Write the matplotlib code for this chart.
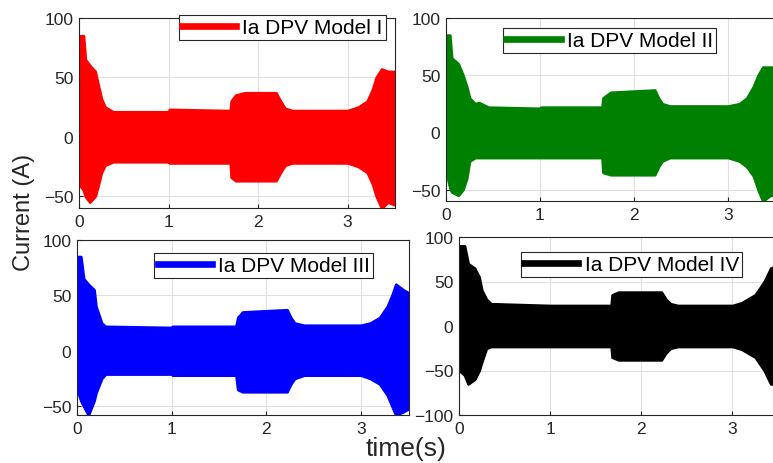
import matplotlib
matplotlib.use('Agg')
import matplotlib.pyplot as plt

plt.rcParams['font.family'] = ['Liberation Sans', 'DejaVu Sans']

W, H = 773, 464

# envelope of phase current Ia (upper / lower)
t_m1 = [0.0, 0.003, 0.05, 0.07, 0.12, 0.18, 0.21, 0.25, 0.29, 0.38, 1.0, 1.01, 1.69, 1.70, 1.75, 1.85, 2.2, 2.25, 2.3, 2.38, 3.0, 3.12, 3.22, 3.28, 3.32, 3.38, 3.45, 3.55]
up_m1 = [0, 85, 85, 65, 60, 55, 45, 32, 25, 21, 21, 23, 22, 30, 35, 37, 37, 30, 24, 22, 22, 25, 30, 40, 50, 57, 55, 55]
lo_m1 = [0, -40, -45, -50, -55, -50, -42, -30, -24, -21, -21, -22, -22, -34, -37, -37, -37, -30, -24, -22, -22, -25, -30, -40, -50, -60, -55, -58]

t_m2 = [0.0, 0.003, 0.04, 0.06, 0.13, 0.18, 0.22, 0.25, 0.31, 0.35, 0.45, 1.0, 1.01, 1.66, 1.67, 1.75, 2.22, 2.26, 2.3, 2.38, 3.0, 3.12, 3.2, 3.27, 3.32, 3.37, 3.45, 3.55]
up_m2 = [0, 85, 85, 65, 60, 50, 40, 30, 25, 26, 22, 21, 22, 22, 30, 35, 37, 30, 25, 23, 23, 25, 30, 40, 50, 57, 57, 57]
lo_m2 = [0, -35, -48, -52, -55, -50, -40, -25, -22, -22, -22, -22, -22, -22, -35, -37, -37, -30, -25, -22, -22, -25, -30, -38, -50, -60, -55, -55]

t_m3 = [0.0, 0.003, 0.04, 0.07, 0.12, 0.18, 0.2, 0.26, 0.3, 1.0, 1.01, 1.68, 1.7, 1.75, 2.22, 2.26, 2.3, 2.4, 3.0, 3.1, 3.2, 3.28, 3.33, 3.37, 3.45, 3.55]
up_m3 = [0, 85, 85, 65, 60, 55, 40, 25, 22, 21, 22, 22, 30, 35, 37, 30, 25, 23, 23, 25, 30, 40, 50, 60, 55, 50]
lo_m3 = [0, -35, -45, -50, -58, -45, -38, -25, -21, -21, -22, -22, -35, -37, -37, -30, -25, -22, -22, -25, -30, -40, -50, -58, -55, -50]

t_m4 = [0.0, 0.003, 0.06, 0.1, 0.17, 0.22, 0.25, 0.3, 0.35, 1.0, 1.67, 1.68, 1.75, 2.22, 2.27, 2.32, 2.4, 3.0, 3.1, 3.25, 3.35, 3.42, 3.55]
up_m4 = [0, 90, 90, 70, 65, 55, 40, 30, 25, 23, 23, 35, 38, 38, 30, 25, 23, 23, 26, 35, 50, 65, 70]
lo_m4 = [0, -50, -55, -65, -60, -50, -40, -25, -23, -23, -23, -35, -38, -38, -30, -25, -23, -23, -26, -35, -50, -65, -65]

labels = ['Ia DPV Model I', 'Ia DPV Model II', 'Ia DPV Model III', 'Ia DPV Model IV']
colors = ['#ff0000', '#008000', '#0000ff', '#000000']

xticks = [0, 1, 2, 3]


def px(l, t, r, b):
    return [l / W, 1 - b / H, (r - l) / W, (b - t) / H]


fig = plt.figure(figsize=(W / 100, H / 100), dpi=100)

panels = [
    (px(79, 19, 395, 209), t_m1, up_m1, lo_m1, (0, 3.53), (-60, 100), [-50, 0, 50, 100], (386, 16)),
    (px(446, 19, 775, 202), t_m2, up_m2, lo_m2, (0, 3.5), (-60, 100), [-50, 0, 50, 100], (716, 29)),
    (px(77, 241, 409, 416), t_m3, up_m3, lo_m3, (0, 3.51), (-58, 100), [-50, 0, 50, 100], (373, 254)),
    (px(459, 238, 778, 416), t_m4, up_m4, lo_m4, (0, 3.5), (-100, 100), [-100, -50, 0, 50, 100], (742, 253)),
]

for i, (pos, t, up, lo, xl, yl, yt, leg) in enumerate(panels):
    ax = fig.add_axes(pos)
    ax.fill_between(t, lo, up, color=colors[i], linewidth=2, edgecolor=colors[i])
    # dummy handle for the thick legend line
    ax.plot([], [], color=colors[i], linewidth=4.8, label=labels[i])
    ax.set_xlim(xl)
    ax.set_ylim(yl)
    ax.set_xticks(xticks)
    ax.set_yticks(yt)
    ax.grid(True, color='#e0e0e0', linewidth=0.8)
    ax.set_axisbelow(True)
    ax.tick_params(direction='in', length=3, labelsize=12.5, colors='#262626', pad=4)
    for s in ax.spines.values():
        s.set_color('#262626')
        s.set_linewidth(0.8)
    lg = ax.legend(loc='upper right', bbox_to_anchor=(leg[0] / W, 1 - leg[1] / H),
                   bbox_transform=fig.transFigure, borderaxespad=0, fontsize=15,
                   fancybox=False, framealpha=1, edgecolor='#262626',
                   handlelength=2.6, handletextpad=0.3, borderpad=0.15)
    lg.get_frame().set_linewidth(0.8)

fig.text(24 / W, 1 - 212 / H, 'Current (A)', rotation=90, ha='center', va='center',
         fontsize=17, color='#262626')
fig.text(406 / W, 1 - 449 / H, 'time(s)', ha='center', va='center',
         fontsize=19, color='#262626')

fig.savefig('out.png', dpi=100)
